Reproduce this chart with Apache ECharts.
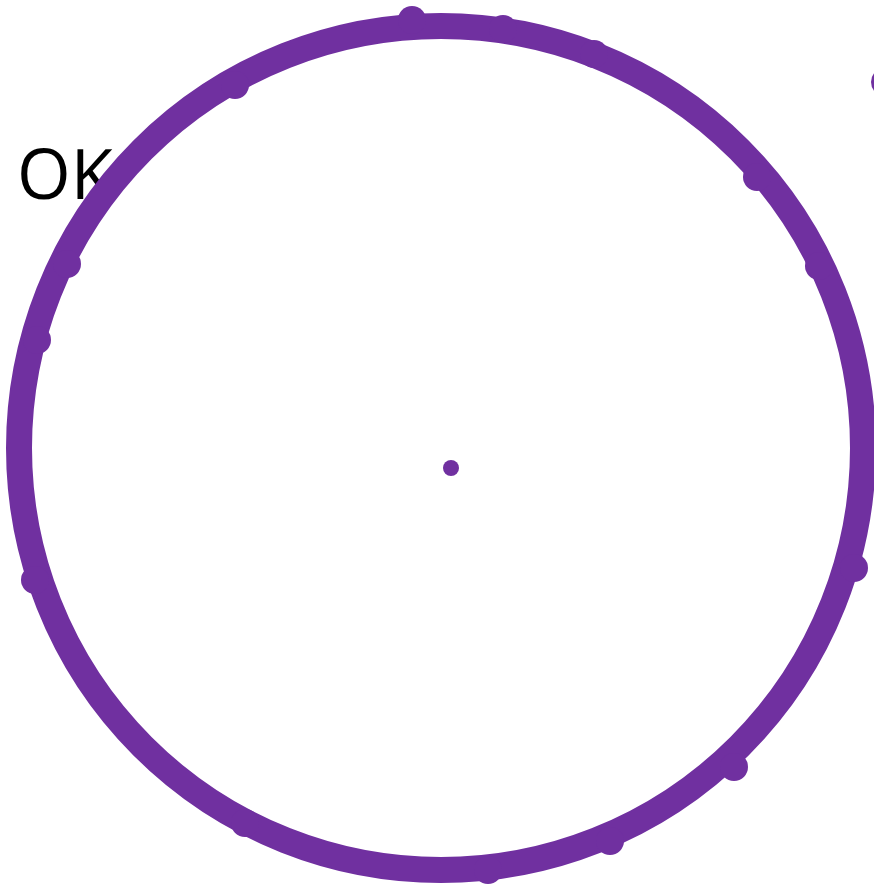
<!DOCTYPE html>
<html>
<head>
<meta charset="utf-8">
<script src="https://cdn.jsdelivr.net/npm/echarts@6/dist/echarts.min.js"></script>
<style>
  html, body { margin: 0; padding: 0; background: #fff; }
  #main { width: 874px; height: 887px; }
</style>
</head>
<body>
<div id="main"></div>
<script>
// measured points (x, y), y grows downward
var points = [
    [412, 20], [503, 29], [594, 54], [757, 177], [819, 266],
    [854, 568], [734, 767], [610, 841], [488, 870], [245, 823],
    [35, 580], [37, 340], [67, 264], [235, 85]
];
var outliers = [[885, 82]];
var centerPoint = [[451, 468]];
// fitted circle: centre x, centre y, radius
var fittedCircle = [[441, 448, 422]];
var titleText = 'OK';

(function(){
    var myChart = echarts.init(document.getElementById('main'));
    var purple = '#7030A0';
    var option = {
        animation: false,
        title: {
            text: titleText,
            left: 17,
            top: 145,
            padding: 0,
            z: 0,
            textStyle: {
                fontFamily: 'Open Sans',
                fontWeight: 'normal',
                fontSize: 69,
                color: '#000'
            }
        },
        grid: { left: 0, right: 0, top: 0, bottom: 0 },
        xAxis: { type: 'value', min: 0, max: 874, show: false },
        yAxis: { type: 'value', min: 0, max: 887, inverse: true, show: false },
        series: [
            {
                type: 'custom',
                z: 2,
                clip: false,
                data: fittedCircle,
                renderItem: function (params, api) {
                    var c = api.coord([api.value(0), api.value(1)]);
                    var r = api.size([api.value(2), 0])[0];
                    return {
                        type: 'circle',
                        shape: { cx: c[0], cy: c[1], r: r },
                        style: { fill: 'none', stroke: purple, lineWidth: 26 }
                    };
                }
            },
            {
                type: 'scatter',
                z: 3,
                clip: false,
                symbolSize: 28,
                itemStyle: { color: purple, opacity: 1 },
                data: points.concat(outliers)
            },
            {
                type: 'scatter',
                z: 3,
                symbolSize: 16,
                itemStyle: { color: purple, opacity: 1 },
                data: centerPoint
            }
        ]
    };
    myChart.setOption(option);
})();
</script>
</body>
</html>
